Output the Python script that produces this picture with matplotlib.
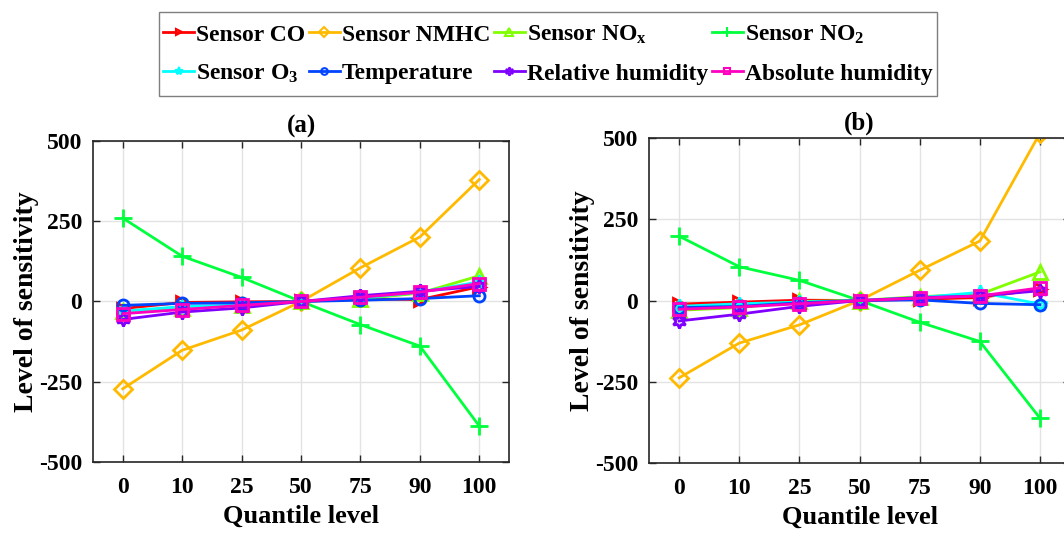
import matplotlib.pyplot as plt
from matplotlib.lines import Line2D
from matplotlib.patches import Rectangle

plt.rcParams['font.family'] = ['Liberation Serif', 'DejaVu Serif']
plt.rcParams['font.weight'] = 'bold'
plt.rcParams['axes.unicode_minus'] = False
plt.rcParams['mathtext.fontset'] = 'custom'
plt.rcParams['mathtext.rm'] = 'Liberation Serif:bold'
plt.rcParams['mathtext.it'] = 'Liberation Serif:bold'
plt.rcParams['mathtext.bf'] = 'Liberation Serif:bold'

quantiles = ['0', '10', '25', '50', '75', '90', '100']

names = ['Sensor CO', 'Sensor NMHC', 'Sensor NO$_{\\mathrm{x}}$', 'Sensor NO$_{\\mathrm{2}}$',
         'Sensor O$_{\\mathrm{3}}$', 'Temperature', 'Relative humidity', 'Absolute humidity']

# sensitivity, panel (a)
a_co   = [-22, -3, -1, 0, 8, 6, 46]
a_nmhc = [-272, -152, -89, 0, 105, 201, 380]
a_nox  = [-30, -20, -12, 0, 8, 26, 80]
a_no2  = [260, 141, 75, 0, -72, -139, -388]
a_o3   = [-30, -16, -11, 0, 10, 29, 61]
a_temp = [-12, -6, -4, 0, 4, 9, 18]
a_rh   = [-56, -33, -20, 0, 18, 32, 47]
a_ah   = [-38, -25, -12, 0, 13, 29, 56]

# sensitivity, panel (b)
b_co   = [-11, -5, 1, 0, 4, 9, 35]
b_nmhc = [-238, -131, -75, 0, 93, 183, 515]
b_nox  = [-30, -22, -3, 0, 12, 19, 88]
b_no2  = [198, 104, 62, 0, -67, -126, -362]
b_o3   = [-18, -10, -5, 0, 9, 25, -11]
b_temp = [-22, -18, -7, 0, 2, -9, -13]
b_rh   = [-63, -42, -18, 0, 9, 14, 30]
b_ah   = [-27, -20, -10, 0, 7, 14, 39]

colors = ['#FF0000', '#FFBA00', '#80FF00', '#00FF3C', '#00FFFF', '#0044FF', '#8000FF', '#FF00C0']
markers = ['>', 'D', '^', '+', '*', 'o', (6, 1, 0), 's']
msizes = [8, 9, 10, 13, 10, 8, 10, 8]

fig = plt.figure(figsize=(10.64, 5.33), dpi=100)
ax1 = fig.add_axes([0.0874, 0.1332, 0.391, 0.6023])
ax2 = fig.add_axes([0.610, 0.1313, 0.3957, 0.6098])

x = list(range(1, 8))


def draw(ax, series, title):
    for s, c, m, ms in zip(series, colors, markers, msizes):
        ax.plot(x, s, color=c, marker=m, markersize=ms, markerfacecolor='none',
                markeredgewidth=2, linewidth=2)
    ax.set_xlim(0.5, 7.5)
    ax.set_ylim(-500, 500)
    ax.set_xticks(x)
    ax.set_xticklabels(quantiles)
    ax.set_yticks([-500, -250, 0, 250, 500])
    ax.tick_params(direction='in', top=True, right=True, length=5, labelsize=17,
                   width=1, color='#262626')
    ax.tick_params(axis='x', pad=11)
    ax.tick_params(axis='y', pad=8)
    ax.grid(True, color='#e3e3e3', linewidth=1)
    ax.set_axisbelow(True)
    for sp in ax.spines.values():
        sp.set_color('#262626')
        sp.set_linewidth(1.2)
    ax.set_xlabel('Quantile level', fontsize=19, fontweight='bold', labelpad=5)
    ax.set_ylabel('Level of sensitivity', fontsize=20, fontweight='bold', labelpad=0)
    ax.set_title(title, fontsize=18, fontweight='bold', pad=6)


draw(ax1, [a_co, a_nmhc, a_nox, a_no2, a_o3, a_temp, a_rh, a_ah], '(a)')
draw(ax2, [b_co, b_nmhc, b_nox, b_no2, b_o3, b_temp, b_rh, b_ah], '(b)')

handles = [Line2D([], [], color=c, marker=m, markersize=ms * 0.6, markerfacecolor='none',
                  markeredgewidth=1.5, linewidth=2)
           for c, m, ms in zip(colors, markers, msizes)]
# column-major order so rows read CO, NMHC, NOx, NO2 / O3, Temp, RH, AH
order = [0, 4, 1, 5, 2, 6, 3, 7]
leg = fig.legend([handles[i] for i in order], [names[i] for i in order], ncol=4,
                 loc='upper center', bbox_to_anchor=(0.515, 0.982), fontsize=17,
                 frameon=False, handlelength=1.3, handletextpad=0.1,
                 columnspacing=0.15, borderpad=0.1, labelspacing=0.72)

# legend frame: tight at the sides, roomier above and below
fig.canvas.draw()
bb = leg.get_window_extent().transformed(fig.transFigure.inverted())
padx, pady = 2 / 1064, 9 / 533
fig.add_artist(Rectangle((bb.x0 - padx, bb.y0 - pady), bb.width + 2 * padx,
                         bb.height + 2 * pady, transform=fig.transFigure,
                         fill=False, edgecolor='#7f7f7f', linewidth=1))

fig.savefig('out.png', dpi=100)
